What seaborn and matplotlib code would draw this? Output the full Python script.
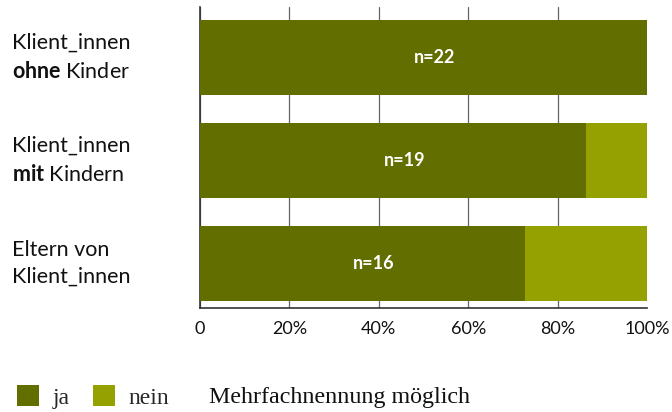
import matplotlib
matplotlib.use("Agg")
import matplotlib.pyplot as plt
import matplotlib.transforms as mtransforms
from matplotlib.patches import Patch
import seaborn as sns
import pandas as pd

# Data
categories = ["ohne", "mit", "eltern"]
category_labels = [
    "Klient_innen\n$\\mathbf{ohne}$ Kinder",
    "Klient_innen\n$\\mathbf{mit}$ Kindern",
    "Eltern von\nKlient_innen",
]
ja_pct = [100.0, 86.4, 72.7]
nein_pct = [0.0, 13.6, 27.3]
n_values = [22, 19, 16]
x_ticks = [0, 20, 40, 60, 80, 100]
x_tick_labels = ["0", "20%", "40%", "60%", "80%", "100%"]
legend_labels = ["ja", "nein"]
note_text = "Mehrfachnennung möglich"

color_ja = "#636e00"
color_nein = "#94a100"

sns.set_theme(style="white")
plt.rcParams["font.family"] = ["Lato", "DejaVu Sans"]
plt.rcParams["mathtext.fontset"] = "custom"
plt.rcParams["mathtext.rm"] = "Lato"
plt.rcParams["mathtext.bf"] = "Lato:bold"

df = pd.DataFrame({
    "cat": categories,
    "ja": ja_pct,
    "total": [a + b for a, b in zip(ja_pct, nein_pct)],
})

fig = plt.figure(figsize=(6.72, 4.12), dpi=100)
ax = fig.add_axes([200 / 672, 104 / 412, 447 / 672, 301 / 412])

# stacked bars: full length in light colour, "ja" share on top
sns.barplot(data=df, x="total", y="cat", orient="h", color=color_nein,
            saturation=1, width=0.728, ax=ax, zorder=2,
            edgecolor="none", linewidth=0)
sns.barplot(data=df, x="ja", y="cat", orient="h", color=color_ja,
            saturation=1, width=0.728, ax=ax, zorder=3,
            edgecolor="none", linewidth=0)

ax.set_xlim(0, 100)
ax.set_ylim(2.432, -0.49)
ax.set_xlabel("")
ax.set_ylabel("")
ax.set_yticks([])
ax.set_xticks(x_ticks)
ax.set_xticklabels(x_tick_labels, fontsize=13, color="#111111")
ax.tick_params(axis="x", length=6, width=1.2, color="#333333", pad=3)
for t in ax.xaxis.get_major_ticks()[1:-1]:
    t.tick1line.set_visible(False)

ax.xaxis.grid(True, color="#666666", linewidth=0.9, zorder=0)
ax.set_axisbelow(True)
ax.get_xgridlines()[-1].set_visible(False)

for side in ["top", "right"]:
    ax.spines[side].set_visible(False)
for side in ["left", "bottom"]:
    ax.spines[side].set_color("#333333")
    ax.spines[side].set_linewidth(1.2)

# sample sizes inside the bars
for i, (ja, n) in enumerate(zip(ja_pct, n_values)):
    ax.text(ja / 2 + 2.5, i, f"n={n}", ha="center", va="center",
            color="white", fontsize=13, fontweight="bold", zorder=5)

# category labels, left aligned at the figure edge
trans = mtransforms.blended_transform_factory(fig.transFigure, ax.transData)
for i, lab in enumerate(category_labels):
    ax.text(12 / 672, i, lab, transform=trans, ha="left", va="center",
            fontsize=15.5, color="#111111", linespacing=1.45)

# legend
handles = [Patch(facecolor=color_ja, edgecolor="none"),
           Patch(facecolor=color_nein, edgecolor="none")]
leg = fig.legend(handles, legend_labels, loc="center left",
                 bbox_to_anchor=(17 / 672, 1 - 397 / 412), ncol=2, frameon=False,
                 prop={"family": "Liberation Serif", "size": 17},
                 handlelength=0.95, handleheight=0.95, handletextpad=0.55,
                 columnspacing=1.0, borderaxespad=0, borderpad=0)
fig.text(209 / 672, 1 - 397 / 412, note_text, ha="left", va="center",
         family="Liberation Serif", fontsize=17.3, color="#111111")

fig.savefig("out.png", dpi=100)
